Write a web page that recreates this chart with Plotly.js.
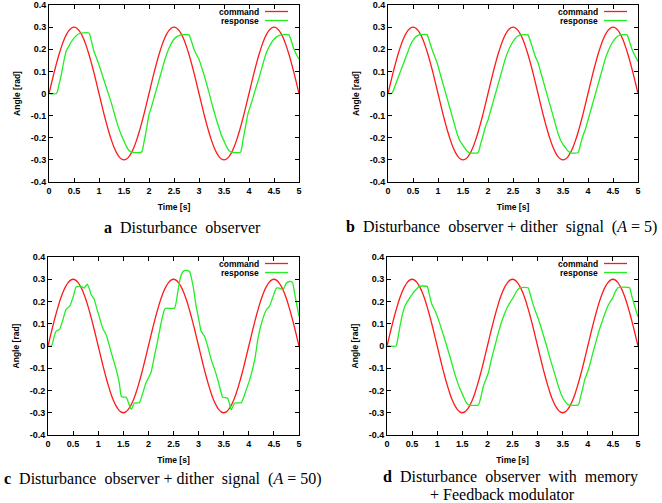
<!DOCTYPE html>
<html>
<head>
<meta charset="utf-8">
<script src="https://cdn.plot.ly/plotly-3.0.1.min.js"></script>
<style>html,body{margin:0;padding:0;background:#fff;}#chart{width:662px;height:503px;}</style>
</head>
<body>
<div id="chart"></div>
<script>
// ---- data ----
const commandTime = [0,0.05,0.1,0.15,0.2,0.25,0.3,0.35,0.4,0.45,0.5,0.55,0.6,0.65,0.7,0.75,0.8,0.85,0.9,0.95,1.0,1.05,1.1,1.15,1.2,1.25,1.3,1.35,1.4,1.45,1.5,1.55,1.6,1.65,1.7,1.75,1.8,1.85,1.9,1.95,2.0,2.05,2.1,2.15,2.2,2.25,2.3,2.35,2.4,2.45,2.5,2.55,2.6,2.65,2.7,2.75,2.8,2.85,2.9,2.95,3.0,3.05,3.1,3.15,3.2,3.25,3.3,3.35,3.4,3.45,3.5,3.55,3.6,3.65,3.7,3.75,3.8,3.85,3.9,3.95,4.0,4.05,4.1,4.15,4.2,4.25,4.3,4.35,4.4,4.45,4.5,4.55,4.6,4.65,4.7,4.75,4.8,4.85,4.9,4.95,5.0];
const commandAngle = [0,0.047,0.093,0.136,0.176,0.212,0.243,0.267,0.285,0.296,0.3,0.296,0.285,0.267,0.243,0.212,0.176,0.136,0.093,0.047,0,-0.047,-0.093,-0.136,-0.176,-0.212,-0.243,-0.267,-0.285,-0.296,-0.3,-0.296,-0.285,-0.267,-0.243,-0.212,-0.176,-0.136,-0.093,-0.047,0,0.047,0.093,0.136,0.176,0.212,0.243,0.267,0.285,0.296,0.3,0.296,0.285,0.267,0.243,0.212,0.176,0.136,0.093,0.047,0,-0.047,-0.093,-0.136,-0.176,-0.212,-0.243,-0.267,-0.285,-0.296,-0.3,-0.296,-0.285,-0.267,-0.243,-0.212,-0.176,-0.136,-0.093,-0.047,0,0.047,0.093,0.136,0.176,0.212,0.243,0.267,0.285,0.296,0.3,0.296,0.285,0.267,0.243,0.212,0.176,0.136,0.093,0.047,0];

const responseTimeA = [0,0.15,0.2,0.25,0.3,0.35,0.4,0.45,0.5,0.55,0.6,0.65,0.8,0.85,0.9,0.95,1.0,1.05,1.1,1.15,1.2,1.25,1.3,1.35,1.4,1.45,1.5,1.55,1.6,1.65,1.85,1.9,1.95,2.0,2.05,2.1,2.15,2.2,2.25,2.3,2.35,2.4,2.45,2.5,2.55,2.6,2.65,2.8,2.85,2.9,2.95,3.0,3.05,3.1,3.15,3.2,3.25,3.3,3.35,3.4,3.45,3.5,3.55,3.6,3.65,3.83,3.88,3.93,3.98,4.03,4.08,4.13,4.2,4.25,4.3,4.35,4.4,4.45,4.5,4.55,4.6,4.65,4.8,4.85,4.9,4.95,5.0];
const responseAngleA = [0,0,0.04,0.09,0.15,0.195,0.215,0.235,0.25,0.262,0.27,0.273,0.273,0.235,0.19,0.16,0.13,0.095,0.06,0.025,-0.01,-0.045,-0.085,-0.125,-0.16,-0.19,-0.215,-0.24,-0.258,-0.265,-0.265,-0.22,-0.16,-0.095,-0.06,-0.02,0.02,0.06,0.1,0.14,0.175,0.205,0.228,0.245,0.256,0.262,0.265,0.265,0.235,0.2,0.175,0.155,0.12,0.085,0.045,0.005,-0.04,-0.08,-0.12,-0.155,-0.19,-0.215,-0.24,-0.258,-0.265,-0.265,-0.21,-0.15,-0.09,-0.055,-0.02,0.02,0.07,0.11,0.15,0.185,0.21,0.23,0.245,0.256,0.262,0.265,0.265,0.235,0.2,0.175,0.155];

const responseTimeB = [0,0.07,0.1,0.15,0.2,0.25,0.3,0.35,0.4,0.45,0.5,0.55,0.6,0.65,0.78,0.83,0.88,0.93,0.98,1.03,1.08,1.13,1.18,1.23,1.28,1.33,1.38,1.43,1.48,1.53,1.58,1.63,1.8,1.85,1.9,1.95,2.0,2.05,2.1,2.15,2.2,2.25,2.3,2.35,2.4,2.45,2.5,2.55,2.6,2.65,2.8,2.85,2.9,2.95,3.0,3.05,3.1,3.15,3.2,3.25,3.3,3.35,3.4,3.45,3.5,3.55,3.6,3.65,3.8,3.85,3.9,3.95,4.0,4.05,4.1,4.15,4.2,4.25,4.3,4.35,4.4,4.45,4.5,4.55,4.6,4.65,4.78,4.83,4.88,4.93,5.0];
const responseAngleB = [0,0,0.01,0.04,0.07,0.1,0.13,0.16,0.19,0.22,0.24,0.255,0.263,0.266,0.266,0.235,0.2,0.17,0.14,0.1,0.06,0.02,-0.02,-0.06,-0.1,-0.14,-0.18,-0.21,-0.228,-0.245,-0.26,-0.268,-0.268,-0.23,-0.19,-0.15,-0.12,-0.08,-0.04,0,0.04,0.08,0.12,0.16,0.19,0.215,0.235,0.25,0.26,0.265,0.265,0.235,0.2,0.165,0.14,0.1,0.06,0.02,-0.02,-0.06,-0.1,-0.14,-0.18,-0.21,-0.23,-0.245,-0.26,-0.268,-0.268,-0.23,-0.19,-0.16,-0.12,-0.08,-0.04,0,0.04,0.08,0.12,0.16,0.19,0.215,0.235,0.25,0.26,0.265,0.265,0.235,0.2,0.175,0.145];

const responseTimeC = [0,0.07,0.12,0.16,0.23,0.3,0.36,0.43,0.5,0.56,0.62,0.69,0.72,0.78,0.82,0.86,0.92,0.97,1.02,1.09,1.16,1.2,1.26,1.32,1.36,1.42,1.46,1.5,1.56,1.61,1.66,1.72,1.82,1.89,1.95,2.05,2.12,2.19,2.25,2.32,2.36,2.52,2.59,2.64,2.69,2.75,2.82,2.89,2.95,3.02,3.05,3.12,3.18,3.25,3.32,3.38,3.45,3.48,3.58,3.65,3.72,3.85,3.95,4.02,4.12,4.18,4.25,4.35,4.41,4.48,4.55,4.61,4.68,4.75,4.81,4.87,4.91,4.96,5.0];
const responseAngleC = [0,0,0.04,0.066,0.075,0.12,0.165,0.178,0.22,0.265,0.268,0.265,0.26,0.278,0.26,0.23,0.21,0.17,0.133,0.08,0.05,0.02,-0.03,-0.076,-0.106,-0.166,-0.226,-0.23,-0.23,-0.26,-0.285,-0.256,-0.255,-0.21,-0.166,-0.12,-0.046,0.03,0.1,0.163,0.17,0.17,0.25,0.31,0.335,0.34,0.335,0.27,0.18,0.1,0.066,0.043,0,-0.06,-0.106,-0.15,-0.21,-0.23,-0.235,-0.287,-0.256,-0.255,-0.196,-0.15,-0.06,0.03,0.1,0.163,0.178,0.22,0.26,0.26,0.253,0.283,0.29,0.285,0.24,0.18,0.133];

const responseTimeD = [0,0.18,0.22,0.26,0.3,0.35,0.4,0.45,0.5,0.55,0.6,0.64,0.8,0.84,0.89,0.96,1.03,1.08,1.13,1.19,1.25,1.3,1.35,1.4,1.45,1.52,1.57,1.62,1.82,1.87,1.92,1.97,2.02,2.08,2.15,2.2,2.25,2.3,2.35,2.4,2.45,2.52,2.58,2.65,2.81,2.85,2.9,2.95,3.01,3.06,3.12,3.18,3.24,3.3,3.36,3.42,3.48,3.55,3.61,3.81,3.86,3.9,3.94,3.99,4.04,4.09,4.14,4.2,4.27,4.34,4.4,4.45,4.5,4.55,4.6,4.83,4.87,4.92,4.96,5.0];
const responseAngleD = [0,0,0.04,0.09,0.135,0.175,0.197,0.215,0.232,0.247,0.258,0.268,0.268,0.235,0.19,0.157,0.115,0.08,0.045,0,-0.045,-0.085,-0.125,-0.16,-0.19,-0.225,-0.25,-0.265,-0.265,-0.23,-0.18,-0.15,-0.12,-0.06,0,0.045,0.085,0.12,0.15,0.175,0.195,0.22,0.245,0.262,0.262,0.235,0.195,0.16,0.125,0.09,0.045,0,-0.05,-0.095,-0.14,-0.185,-0.222,-0.25,-0.265,-0.265,-0.225,-0.19,-0.15,-0.12,-0.085,-0.04,0,0.05,0.1,0.145,0.18,0.2,0.218,0.245,0.262,0.262,0.23,0.19,0.16,0.13];

const xTickValues = [0,0.5,1,1.5,2,2.5,3,3.5,4,4.5,5];
const xTickLabels = ['0','0.5','1','1.5','2','2.5','3','3.5','4','4.5','5'];
const yTickValues = [-0.4,-0.3,-0.2,-0.1,0,0.1,0.2,0.3,0.4];
const yTickLabels = ['-0.4','-0.3','-0.2','-0.1','0','0.1','0.2','0.3','0.4'];

const seriesNames = ['command','response'];
const captions = [
  '<b>a</b>\u00A0\u00A0Disturbance\u00A0\u00A0observer',
  '<b>b</b>\u00A0\u00A0Disturbance\u00A0\u00A0observer + dither\u00A0 signal\u00A0 (<i>A</i> = 5)',
  '<b>c</b>\u00A0\u00A0Disturbance\u00A0\u00A0observer + dither\u00A0 signal\u00A0 (<i>A</i> = 50)',
  '<b>d</b>\u00A0\u00A0Disturbance\u00A0\u00A0observer\u00A0 with\u00A0 memory',
  '+ Feedback modulator'
];
const responseTimes = [responseTimeA, responseTimeB, responseTimeC, responseTimeD];
const responseAngles = [responseAngleA, responseAngleB, responseAngleC, responseAngleD];

// ---- layout geometry (pixels) ----
const W = 662, H = 503;
const panels = [
  {l:49, r:299, t:5, b:182},
  {l:388, r:638, t:5, b:182},
  {l:48, r:299, t:257, b:435},
  {l:387, r:638, t:257, b:435}
];
const px = v => v / W;
const py = v => 1 - v / H;

const RED = '#ff1a1a';
const GREEN = '#22ee22';
const sans = 'Liberation Sans, Arial, sans-serif';
const serif = 'Liberation Serif, Times New Roman, serif';

const traces = [];
const layout = {
  width: W, height: H,
  margin: {l:0, r:0, t:0, b:0},
  paper_bgcolor: '#fff', plot_bgcolor: '#fff',
  showlegend: false,
  annotations: [], shapes: []
};

panels.forEach((p, i) => {
  const n = i === 0 ? '' : String(i + 1);
  traces.push({x: commandTime, y: commandAngle, xaxis: 'x' + n, yaxis: 'y' + n, type: 'scatter', mode: 'lines',
    name: seriesNames[0], line: {color: RED, width: 1.3, shape: 'spline', smoothing: 0.8}});
  traces.push({x: responseTimes[i], y: responseAngles[i], xaxis: 'x' + n, yaxis: 'y' + n, type: 'scatter', mode: 'lines',
    name: seriesNames[1], line: {color: GREEN, width: 1.3, shape: 'spline', smoothing: 0.5}});
  const common = {showline: true, mirror: 'ticks', linecolor: '#000', linewidth: 1, ticks: 'inside', ticklen: 4,
    tickcolor: '#000', tickwidth: 1, showgrid: false, zeroline: false,
    tickfont: {family: sans, size: 9, color: '#000', weight: 'bold'}};
  layout['xaxis' + n] = Object.assign({}, common, {
    domain: [px(p.l), px(p.r)], anchor: 'y' + n, range: [0, 5],
    tickmode: 'array', tickvals: xTickValues, ticktext: xTickLabels,
    title: {text: 'Time [s]', font: {family: sans, size: 8.5, color: '#000', weight: 'bold'}, standoff: 9}
  });
  layout['yaxis' + n] = Object.assign({}, common, {
    domain: [py(p.b), py(p.t)], anchor: 'x' + n, range: [-0.4, 0.4],
    tickmode: 'array', tickvals: yTickValues, ticktext: yTickLabels,
    title: {text: 'Angle [rad]', font: {family: sans, size: 8.5, color: '#000', weight: 'bold'}, standoff: 8}
  });
  // legend (gnuplot style: text then line sample)
  seriesNames.forEach((nm, k) => {
    const yy = p.t + 6.5 + 9 * k;
    layout.annotations.push({xref: 'paper', yref: 'paper', x: px(p.r - 38), y: py(yy), xanchor: 'right', yanchor: 'middle',
      text: nm, showarrow: false, font: {family: sans, size: 8.5, color: '#000', weight: 'bold'}});
    layout.shapes.push({type: 'line', xref: 'paper', yref: 'paper', x0: px(p.r - 34), x1: px(p.r - 11), y0: py(yy), y1: py(yy),
      line: {color: k === 0 ? RED : GREEN, width: 1.3}});
  });
});

const capPos = [[182, 227], [501, 227], [163, 479], [511, 477], [502, 494]];
captions.forEach((c, i) => {
  layout.annotations.push({xref: 'paper', yref: 'paper', x: px(capPos[i][0]), y: py(capPos[i][1]),
    xanchor: 'center', yanchor: 'middle', text: c, showarrow: false, borderpad: 0,
    font: {family: serif, size: 16, color: '#000'}});
});

Plotly.newPlot('chart', traces, layout, {staticPlot: true, displayModeBar: false});
</script>
</body>
</html>
